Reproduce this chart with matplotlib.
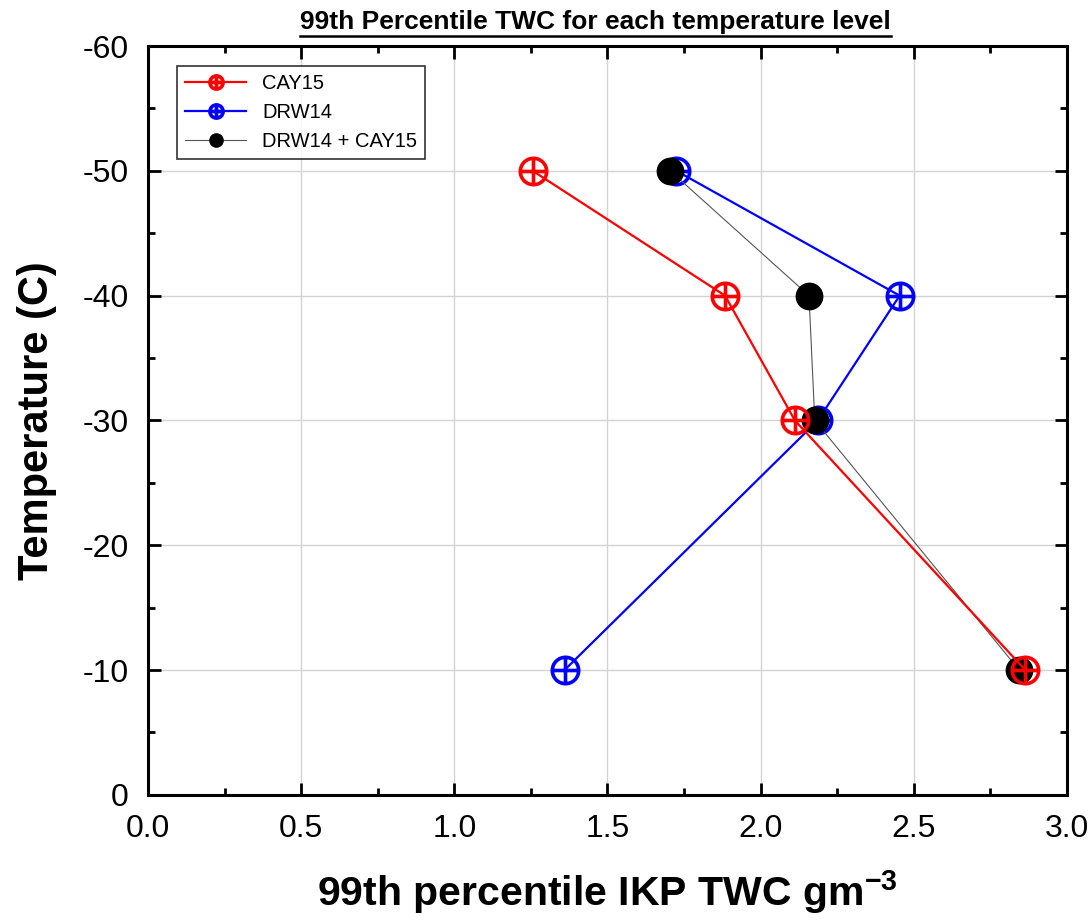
import numpy as np
import matplotlib
matplotlib.use("Agg")
import matplotlib.pyplot as plt
from matplotlib.path import Path
from matplotlib.lines import Line2D
from matplotlib.ticker import MultipleLocator

plt.rcParams['font.family'] = ['Liberation Sans', 'DejaVu Sans']
plt.rcParams['axes.unicode_minus'] = False
plt.rcParams['mathtext.fontset'] = 'custom'
plt.rcParams['mathtext.rm'] = 'Liberation Sans:bold'
plt.rcParams['mathtext.bf'] = 'Liberation Sans:bold'

# temperature levels (C) and 99th percentile TWC values
temp = [-50, -40, -30, -10]
cay15 = [1.256, 1.884, 2.112, 2.864]
drw14 = [1.725, 2.454, 2.187, 1.360]
combined = [1.705, 2.158, 2.177, 2.844]

# circle with a cross inside
circ = Path.unit_circle()
cross = Path([[-1, 0], [1, 0], [0, -1], [0, 1]],
             [Path.MOVETO, Path.LINETO, Path.MOVETO, Path.LINETO])
oplus = Path.make_compound_path(circ, cross)

fig = plt.figure(figsize=(10.92, 9.21), dpi=100)
ax = fig.add_axes([0.1355, 0.137, 0.8415, 0.813])

l2, = ax.plot(drw14, temp, color='blue', lw=1.6, marker=oplus, ms=19,
              mfc='none', mec='blue', mew=2.6, zorder=3, label='DRW14')
l3, = ax.plot(combined, temp, color='#555555', lw=0.8, marker='o', ms=19,
              mfc='black', mec='black', zorder=4, label='DRW14 + CAY15')
l1, = ax.plot(cay15, temp, color='red', lw=1.6, marker=oplus, ms=19,
              mfc='none', mec='red', mew=2.6, zorder=5, label='CAY15')

ax.set_xlim(0, 3.0)
ax.set_ylim(0, -60)
ax.xaxis.set_major_locator(MultipleLocator(0.5))
ax.xaxis.set_minor_locator(MultipleLocator(0.25))
ax.yaxis.set_major_locator(MultipleLocator(10))
ax.yaxis.set_minor_locator(MultipleLocator(5))
ax.xaxis.set_major_formatter(matplotlib.ticker.FormatStrFormatter('%.1f'))
ax.tick_params(which='both', direction='in', top=True, right=True,
               labelsize=23, width=2)
ax.tick_params(which='major', length=9)
ax.tick_params(axis='x', which='major', pad=14)
ax.tick_params(axis='y', which='major', pad=14)
ax.tick_params(which='minor', length=5)
ax.grid(True, which='major', color='#d3d3d3', lw=1)
for s in ax.spines.values():
    s.set_linewidth(2.2)

ax.set_xlabel('99th percentile IKP TWC gm$^{\\mathbf{-3}}$', fontsize=29.5,
              fontweight='bold', labelpad=17)
ax.set_ylabel('Temperature (C)', fontsize=30, fontweight='bold', labelpad=18)
t = ax.set_title('99th Percentile TWC for each temperature level',
                 fontsize=19, fontweight='bold', pad=12, x=0.487)

leg = ax.legend(handles=[l1, l2, l3], loc='upper left', fontsize=14.5,
                markerscale=0.5, frameon=True, fancybox=False,
                edgecolor='black', handlelength=3.0,
                bbox_to_anchor=(0.032, 0.974), borderaxespad=0)
leg.get_frame().set_linewidth(1.2)

# underline the title
fig.canvas.draw()
bb = t.get_window_extent().transformed(fig.transFigure.inverted())
fig.add_artist(Line2D([bb.x0, bb.x1], [bb.y0 - 0.002, bb.y0 - 0.002],
                      transform=fig.transFigure, color='black', lw=1.8))

fig.savefig('out.png', dpi=100)
